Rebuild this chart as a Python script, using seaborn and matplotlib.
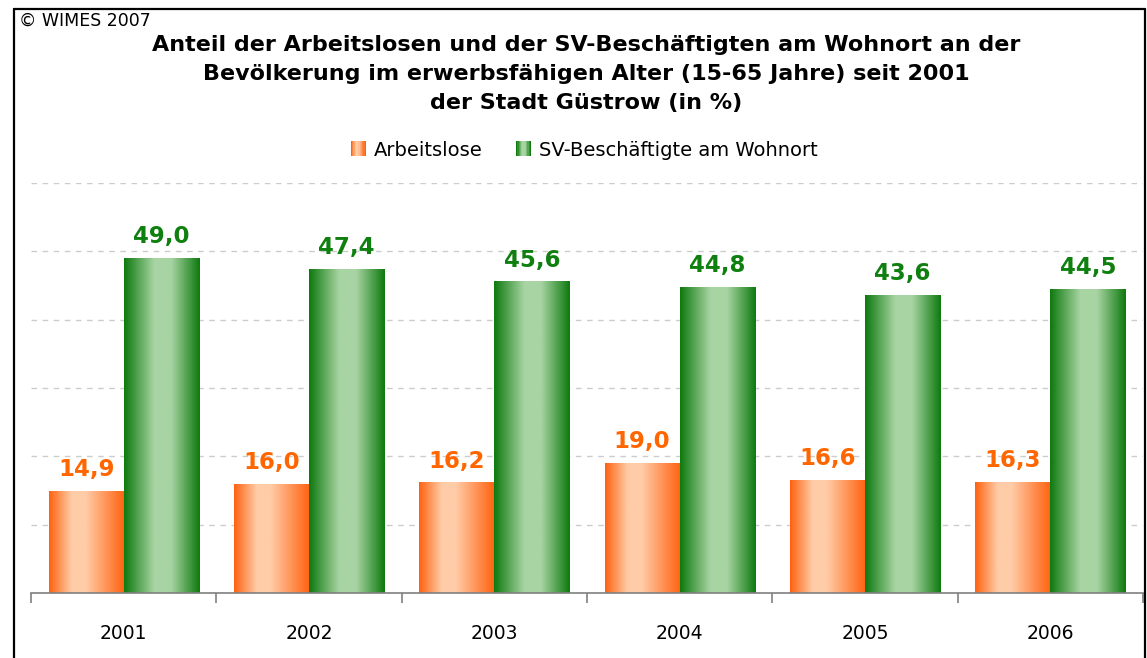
import numpy as np
import pandas as pd
import matplotlib
matplotlib.use("Agg")
import matplotlib.pyplot as plt
import seaborn as sns
from matplotlib.patches import Rectangle
from matplotlib.lines import Line2D
from matplotlib.legend_handler import HandlerBase

years = ["2001", "2002", "2003", "2004", "2005", "2006"]
arbeitslose = [14.9, 16.0, 16.2, 19.0, 16.6, 16.3]
sv_beschaeftigte = [49.0, 47.4, 45.6, 44.8, 43.6, 44.5]
series_names = ["Arbeitslose", "SV-Beschäftigte am Wohnort"]
title_lines = [
    "Anteil der Arbeitslosen und der SV-Beschäftigten am Wohnort an der",
    "Bevölkerung im erwerbsfähigen Alter (15-65 Jahre) seit 2001",
    "der Stadt Güstrow (in %)",
]

df = pd.DataFrame({
    "Jahr": years * 2,
    "Wert": arbeitslose + sv_beschaeftigte,
    "Serie": [series_names[0]] * len(years) + [series_names[1]] * len(years),
})

sns.set_style("white")
plt.rcParams["font.family"] = ["DejaVu Sans"]
plt.rcParams["text.color"] = "black"

W, H = 1147, 658
fig = plt.figure(figsize=(W / 100, H / 100), dpi=100)
ax = fig.add_axes([31 / W, 1 - 593 / H, (1143 - 31) / W, (593 - 183) / H])

label_colors = {series_names[0]: "#FF6600", series_names[1]: "#0F800F"}
grad = {
    series_names[0]: (np.array([255, 98, 16]) / 255, np.array([255, 204, 168]) / 255, (0.30, 0.48)),
    series_names[1]: (np.array([14, 122, 14]) / 255, np.array([168, 212, 163]) / 255, (0.40, 0.62)),
}

def gradient_img(dark, light, plateau, n=200):
    t = np.linspace(0, 1, n)
    a, b = plateau
    f = np.where(t < a, t / a, np.where(t <= b, 1.0, 1 - (t - b) / (1 - b)))
    f = np.clip(f, 0, 1)
    cols = dark[None, :] + (light - dark)[None, :] * f[:, None]
    return cols[None, :, :]

sns.barplot(data=df, x="Jahr", y="Wert", hue="Serie", hue_order=series_names,
            palette=[label_colors[s] for s in series_names], width=0.81,
            ax=ax, legend=False, saturation=1, edgecolor="none", zorder=2)

bars = [p for p in ax.patches if isinstance(p, Rectangle)]
nb = len(years)
for i, p in enumerate(bars[:2 * nb]):
    s = series_names[0] if i < nb else series_names[1]
    dark, light, plat = grad[s]
    x0, w, h = p.get_x(), p.get_width(), p.get_height()
    im = ax.imshow(gradient_img(dark, light, plat), extent=[x0, x0 + w, 0, h],
                   aspect="auto", zorder=3, interpolation="bilinear")
    im.set_clip_path(p)
    ax.annotate(f"{h:.1f}".replace(".", ","), (x0 + w / 2, h), xytext=(0, 7),
                textcoords="offset points", ha="center", va="bottom",
                fontsize=16.5, fontweight="heavy", color=label_colors[s], zorder=5)

ax.set_xlim(-0.5, len(years) - 0.5)
ax.set_ylim(0, 60)
ax.set_yticks(np.arange(0, 61, 10))
ax.set_yticklabels([])
ax.tick_params(axis="y", length=0)
ax.yaxis.grid(True, color="#CCCCCC", linestyle=(0, (4, 4)), linewidth=1)
ax.set_axisbelow(True)
for side in ["left", "right", "top"]:
    ax.spines[side].set_visible(False)
ax.spines["bottom"].set_color("#808080")
ax.spines["bottom"].set_linewidth(1.2)
ax.spines["bottom"].set_zorder(6)
ax.set_xticks(np.arange(len(years)))
ax.set_xticklabels(years, fontsize=13.5, color="black")
ax.set_xticks(np.arange(-0.5, len(years)), minor=True)
ax.tick_params(axis="x", which="major", length=0, pad=22, bottom=True)
ax.tick_params(axis="x", which="minor", length=7, width=1.2, color="#808080",
               direction="out", bottom=True)
ax.set_xlabel("")
ax.set_ylabel("")

class GradHandler(HandlerBase):
    def __init__(self, dark, light, plat):
        super().__init__()
        self.dark, self.light, self.plat = dark, light, plat
    def create_artists(self, legend, orig_handle, xdescent, ydescent, width, height, fontsize, trans):
        n = 12
        img = gradient_img(self.dark, self.light, self.plat, n)[0]
        arts = []
        sz = height * 1.1
        x0 = width - sz
        for k in range(n):
            r = Rectangle((x0 + k * sz / n - xdescent, -ydescent + (height - sz) / 2), sz / n * 1.05, sz,
                          facecolor=img[k], edgecolor="none", transform=trans)
            arts.append(r)
        return arts

handles = [Rectangle((0, 0), 1, 1) for _ in series_names]
hmap = {handles[i]: GradHandler(*grad[s]) for i, s in enumerate(series_names)}
fig.legend(handles, series_names, handler_map=hmap, loc="center", bbox_to_anchor=(583 / W, 1 - 150 / H),
           ncol=2, frameon=False, fontsize=14, handlelength=0.9, handletextpad=0.4, columnspacing=1.6,
           labelcolor="black")

for k, line in enumerate(title_lines):
    fig.text(586 / W, 1 - (45 + 29 * k) / H, line, ha="center", va="center",
             fontsize=16, fontweight="bold", color="black")
fig.text(19 / W, 1 - 21 / H, "© WIMES 2007", ha="left", va="center", fontsize=12.5, color="black")

frame_kw = dict(transform=fig.transFigure, color="black", linewidth=1.6)
fig.add_artist(Line2D([14 / W, 14 / W], [0, 1 - 9 / H], **frame_kw))
fig.add_artist(Line2D([14 / W, 1145 / W], [1 - 9 / H, 1 - 9 / H], **frame_kw))
fig.add_artist(Line2D([1145 / W, 1145 / W], [0, 1 - 9 / H], **frame_kw))

fig.savefig("out.png", dpi=100, facecolor="white")
